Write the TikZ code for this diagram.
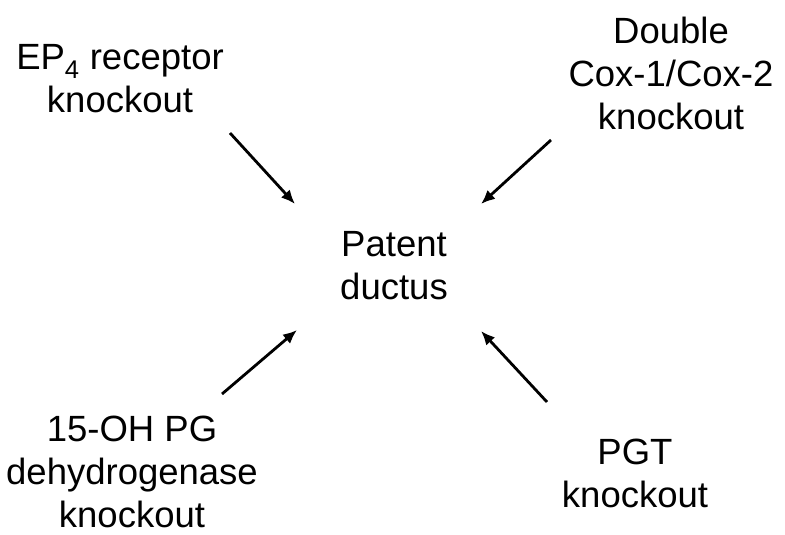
\documentclass[tikz,border=0pt]{standalone}
\usepackage{fontspec}
\setmainfont{Liberation Sans}
\usepackage{tikz}
\usetikzlibrary{arrows.meta}

\begin{document}
\begin{tikzpicture}[
        x=1pt, y=-1pt,
        label/.style = {align=center, inner sep=0pt, font=\fontsize{36.5}{43}\selectfont},
        arrow/.style = {line width=2.8pt, -{Latex[length=14pt, width=12pt]}}
        ]
        \useasboundingbox (0,0) rectangle (785,535);

        \node[label] (ep4) at (120,79) {EP\textsubscript{4} receptor\\knockout};
        \node[label] (cox) at (671,73) {Double\\Cox-1/Cox-2\\knockout};
        \node[label] (pda) at (394,266) {Patent\\ductus};
        \node[label] (pgdh) at (132,472) {15-OH PG\\dehydrogenase\\knockout};
        \node[label] (pgt) at (635,473) {PGT\\knockout};

        \coordinate (ep4tail) at (230,133);
        \coordinate (ep4head) at (295,204);
        \coordinate (coxtail) at (551,140);
        \coordinate (coxhead) at (481,204);
        \coordinate (pgdhtail) at (222,394);
        \coordinate (pgdhhead) at (297,330);
        \coordinate (pgttail) at (547,402);
        \coordinate (pgthead) at (481,331);

        \draw[arrow] (ep4tail) -- (ep4head);
        \draw[arrow] (coxtail) -- (coxhead);
        \draw[arrow] (pgdhtail) -- (pgdhhead);
        \draw[arrow] (pgttail) -- (pgthead);

    \end{tikzpicture}
\end{document}
